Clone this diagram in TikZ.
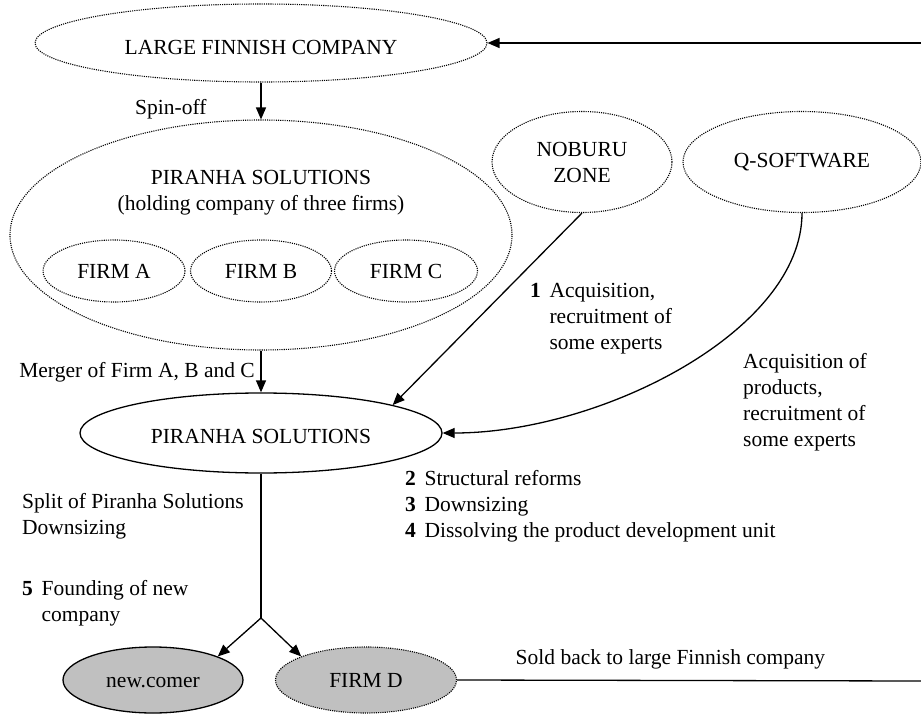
\documentclass[tikz,border=0pt]{standalone}
\usepackage{fontspec}
\setmainfont{Liberation Serif}
\usetikzlibrary{shapes.geometric,arrows.meta}
\definecolor{boxgray}{RGB}{192,192,192}
\tikzset{
  company/.style={ellipse, draw, inner sep=0pt, align=center},
  dotline/.style={dash pattern=on 1.1pt off 1.1pt, line width=1.1pt},
  link/.style={line width=1.3pt},
  arr/.style={link, -{Triangle[length=12pt,width=10pt]}},
  lbl/.style={inner sep=0pt, anchor=base west},
}
\begin{document}
\begin{tikzpicture}[x=1pt, y=-1pt, every node/.append style={font=\fontsize{21.5}{26}\selectfont}]
\useasboundingbox (0,0) rectangle (921,714);
% companies
\node[company, dotline, minimum width=452pt, minimum height=78pt, text height=24pt, text depth=0pt] (lfc) at (261,43) {LARGE FINNISH COMPANY};
\node[company, dotline, minimum width=502pt, minimum height=230pt] (hold) at (261,235) {};
\node[inner sep=0pt, align=center] (holdtxt) at (261,193) {PIRANHA SOLUTIONS\\(holding company of three firms)};
\node[company, dotline, minimum width=142pt, minimum height=62pt] (fa) at (114,271) {FIRM A};
\node[company, dotline, minimum width=141pt, minimum height=62pt] (fb) at (261,271) {FIRM B};
\node[company, dotline, minimum width=143pt, minimum height=62pt] (fc) at (406,271) {FIRM C};
\node[company, dotline, minimum width=180pt, minimum height=101pt] (nob) at (582,162) {NOBURU\\ZONE};
\node[company, dotline, minimum width=238pt, minimum height=101pt] (qsw) at (802,162) {Q-SOFTWARE};
\node[company, link, minimum width=362pt, minimum height=80pt, text height=20pt, text depth=0pt] (pir) at (261,433) {PIRANHA SOLUTIONS};
\node[company, link, fill=boxgray, minimum width=180pt, minimum height=66pt, text height=14pt, text depth=0pt] (newc) at (153,680) {new.comer};
\node[company, dotline, fill=boxgray, minimum width=181pt, minimum height=66pt] (firmd) at (366,680) {FIRM D};
\coordinate (lfcin) at (921,43);
\coordinate (split) at (261,618);
\coordinate (soldend) at (921,681);
% connectors
\draw[arr] (lfcin) -- (lfc.east);
\draw[arr] (lfc.south) -- (hold.north);
\draw[arr] (hold.south) -- (pir.north);
\draw[arr] (nob.south) -- (pir.12);
\draw[arr] (qsw.south) .. controls +(0,118) and +(158,0) .. (pir.east);
\draw[link] (pir.south) -- (split);
\draw[arr] (split) -- (newc.20);
\draw[arr] (split) -- (firmd.160);
\draw[link] (firmd.east) -- node[pos=0.46, above=11pt, inner sep=0pt] (soldlbl) {Sold back to large Finnish company} (soldend);
% labels
\node[lbl] (spinlbl) at (135,115) {Spin-off};
\node[lbl, anchor=base east] (mergelbl) at (255,377) {Merger of Firm A, B and C};
\node[lbl] (acq1lbl) at (530,297) {\begin{tabular}[t]{@{}l@{\hspace{0.4em}}l@{}}\textbf{1} & Acquisition,\\ & recruitment of\\ & some experts\end{tabular}};
\node[lbl] (acq2lbl) at (743,368) {\begin{tabular}[t]{@{}l@{}}Acquisition of\\products,\\recruitment of\\some experts\end{tabular}};
\node[lbl] (reformlbl) at (405,485) {\begin{tabular}[t]{@{}l@{\hspace{0.4em}}l@{}}\textbf{2} & Structural reforms\\ \textbf{3} & Downsizing\\ \textbf{4} & Dissolving the product development unit\end{tabular}};
\node[lbl] (splitlbl) at (22,508) {\begin{tabular}[t]{@{}l@{}}Split of Piranha Solutions\\Downsizing\end{tabular}};
\node[lbl] (foundlbl) at (22,595) {\begin{tabular}[t]{@{}l@{\hspace{0.4em}}l@{}}\textbf{5} & Founding of new\\ & company\end{tabular}};
\end{tikzpicture}
\end{document}
